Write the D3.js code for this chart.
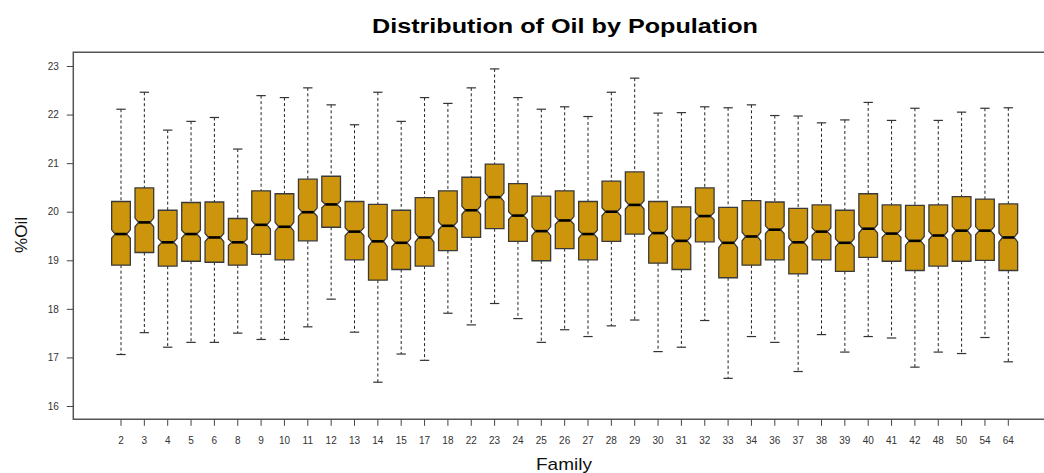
<!doctype html>
<html lang="en">
<head>
<meta charset="UTF-8">
<title>Distribution of Oil by Population</title>
<script src="https://cdn.jsdelivr.net/npm/d3@7"></script>
<style>
    body { margin: 0; background: #fff; }
    text { font-family: "Liberation Sans", Arial, sans-serif; }
</style>
</head>
<body>
<svg width="1044" height="473"></svg>
<script>
    // families on the x axis
    const families = ["2", "3", "4", "5", "6", "8", "9", "10", "11", "12", "13", "14", "15", "17", "18",
        "22", "23", "24", "25", "26", "27", "28", "29", "30", "31", "32", "33", "34", "36", "37",
        "38", "39", "40", "41", "42", "48", "50", "54", "64"];

    // five-number summaries
    const whiskerHigh = [22.11, 22.46, 21.68, 21.86, 21.94, 21.29, 22.39, 22.35, 22.55, 22.20, 21.79, 22.46, 21.86, 22.35, 22.23,
        22.55, 22.94, 22.35, 22.11, 22.16, 21.96, 22.46, 22.75, 22.03, 22.04, 22.16, 22.14, 22.20, 21.98, 21.97,
        21.83, 21.89, 22.25, 21.88, 22.13, 21.88, 22.05, 22.13, 22.14];
    const q3 = [20.21, 20.49, 20.03, 20.19, 20.20, 19.86, 20.43, 20.37, 20.67, 20.73, 20.21, 20.15, 20.03, 20.29, 20.43,
        20.71, 20.98, 20.58, 20.32, 20.43, 20.21, 20.63, 20.82, 20.21, 20.10, 20.49, 20.09, 20.23, 20.20, 20.07,
        20.14, 20.03, 20.37, 20.14, 20.13, 20.14, 20.31, 20.26, 20.16];
    const medians = [19.54, 19.78, 19.37, 19.54, 19.47, 19.37, 19.73, 19.69, 19.99, 20.15, 19.59, 19.39, 19.36, 19.47, 19.71,
        20.03, 20.30, 19.92, 19.60, 19.82, 19.54, 20.00, 20.14, 19.56, 19.40, 19.91, 19.36, 19.49, 19.63, 19.37,
        19.59, 19.36, 19.65, 19.55, 19.40, 19.51, 19.61, 19.61, 19.47];
    const q1 = [18.90, 19.16, 18.88, 18.98, 18.96, 18.90, 19.12, 19.01, 19.40, 19.68, 19.01, 18.59, 18.81, 18.88, 19.20,
        19.47, 19.65, 19.39, 18.99, 19.24, 19.01, 19.39, 19.54, 18.94, 18.81, 19.38, 18.64, 18.90, 19.01, 18.72,
        19.01, 18.77, 19.06, 18.98, 18.79, 18.88, 18.98, 19.00, 18.79];
    const whiskerLow = [17.06, 17.51, 17.21, 17.31, 17.31, 17.50, 17.37, 17.37, 17.63, 18.20, 17.52, 16.49, 17.07, 16.94, 17.91,
        17.67, 18.11, 17.80, 17.31, 17.57, 17.43, 17.65, 17.77, 17.12, 17.21, 17.76, 16.57, 17.43, 17.31, 16.71,
        17.47, 17.11, 17.43, 17.40, 16.80, 17.11, 17.08, 17.41, 16.91];

    // assumed plants per family, only used for the notch size
    const nPerFamily = 560;

    const yTicks = [16, 17, 18, 19, 20, 21, 22, 23];

    const rows = families.map((f, i) => ({
        family: f,
        hi: whiskerHigh[i], q3: q3[i], med: medians[i], q1: q1[i], lo: whiskerLow[i]
    }));

    const svg = d3.select("svg");
    const plotLeft = 73.3, plotTop = 52.3, plotBottom = 419.3;

    const step = 23.35;
    const x = d3.scaleBand()
        .domain(families)
        .range([121 - step / 2, 121 - step / 2 + families.length * step]);
    const y = d3.scaleLinear().domain([16, 23]).range([406, 66]);

    const bw = x.bandwidth();
    const half = bw * 0.4;       // box half width
    const cap = half * 0.5;      // staple half width
    const notchFrac = 0.62;

    // frame (the right edge runs past the picture)
    svg.append("path")
        .attr("d", `M1080,${plotTop}H${plotLeft}V${plotBottom}H1080`)
        .attr("fill", "none")
        .attr("stroke", "#555")
        .attr("stroke-width", 1.5);

    // y axis
    const yAxis = svg.append("g")
        .attr("transform", `translate(${plotLeft},0)`)
        .call(d3.axisLeft(y).tickValues(yTicks).tickSize(6.5).tickPadding(8).tickFormat(d3.format("d")));
    yAxis.select(".domain").remove();
    yAxis.selectAll("line").attr("stroke", "#444");
    yAxis.selectAll("text").attr("font-size", 10).attr("fill", "#333")
        .attr("font-family", "'Liberation Sans', Arial, sans-serif");

    // x axis
    const xAxis = svg.append("g")
        .attr("transform", `translate(0,${plotBottom})`)
        .call(d3.axisBottom(x).tickSize(6.5).tickPadding(11));
    xAxis.select(".domain").remove();
    xAxis.selectAll("line").attr("stroke", "#444");
    xAxis.selectAll("text").attr("font-size", 10).attr("fill", "#333")
        .attr("font-family", "'Liberation Sans', Arial, sans-serif");

    const g = svg.append("g").selectAll("g")
        .data(rows)
        .enter().append("g")
        .attr("transform", d => `translate(${x(d.family) + bw / 2},0)`);

    // whiskers
    g.append("line")
        .attr("y1", d => y(d.hi)).attr("y2", d => y(d.q3))
        .attr("stroke", "#222").attr("stroke-dasharray", "3,2.5");
    g.append("line")
        .attr("y1", d => y(d.q1)).attr("y2", d => y(d.lo))
        .attr("stroke", "#222").attr("stroke-dasharray", "3,2.5");

    // staples
    g.append("line")
        .attr("x1", -cap).attr("x2", cap)
        .attr("y1", d => y(d.hi)).attr("y2", d => y(d.hi))
        .attr("stroke", "#333").attr("stroke-width", 1.2);
    g.append("line")
        .attr("x1", -cap).attr("x2", cap)
        .attr("y1", d => y(d.lo)).attr("y2", d => y(d.lo))
        .attr("stroke", "#333").attr("stroke-width", 1.2);

    // notched boxes
    g.append("path")
        .attr("d", d => {
            const nh = 1.58 * (d.q3 - d.q1) / Math.sqrt(nPerFamily);
            const yq3 = y(d.q3), yq1 = y(d.q1), ym = y(d.med);
            const yu = y(d.med + nh), yl = y(d.med - nh);
            const ni = half * notchFrac;
            return `M${-half},${yq3}H${half}V${yu}L${ni},${ym}L${half},${yl}V${yq1}` +
                `H${-half}V${yl}L${-ni},${ym}L${-half},${yu}Z`;
        })
        .attr("fill", "#CD950C")
        .attr("stroke", "#3a3a3a")
        .attr("stroke-width", 1.3);

    // medians
    g.append("line")
        .attr("x1", -half * notchFrac).attr("x2", half * notchFrac)
        .attr("y1", d => y(d.med)).attr("y2", d => y(d.med))
        .attr("stroke", "#000").attr("stroke-width", 2.6);

    // title and axis labels
    svg.append("text")
        .attr("x", 565).attr("y", 33)
        .attr("text-anchor", "middle")
        .attr("font-size", 20).attr("font-weight", "bold")
        .attr("fill", "#000")
        .attr("textLength", 386).attr("lengthAdjust", "spacingAndGlyphs")
        .text("Distribution of Oil by Population");

    svg.append("text")
        .attr("transform", "translate(27,235) rotate(-90)")
        .attr("text-anchor", "middle")
        .attr("font-size", 17)
        .attr("fill", "#111")
        .text("%Oil");

    svg.append("text")
        .attr("x", 564).attr("y", 470)
        .attr("text-anchor", "middle")
        .attr("font-size", 17)
        .attr("fill", "#111")
        .attr("textLength", 56).attr("lengthAdjust", "spacingAndGlyphs")
        .text("Family");
</script>
</body>
</html>
